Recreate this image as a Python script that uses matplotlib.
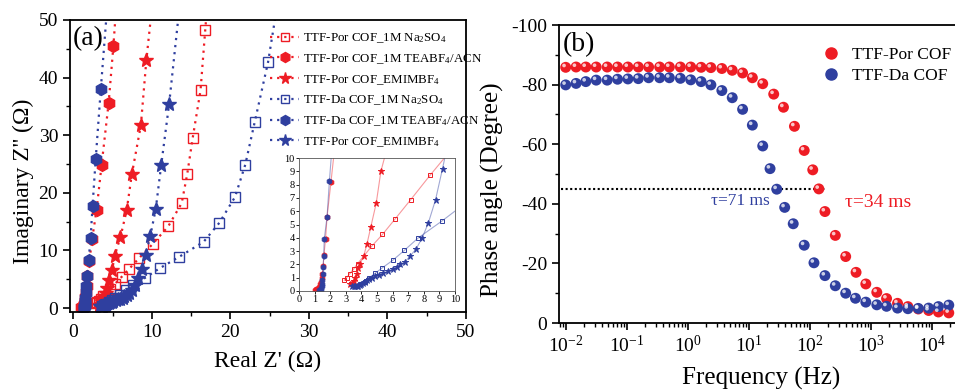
import numpy as np
import matplotlib
matplotlib.use("Agg")
import matplotlib.pyplot as plt
from matplotlib.lines import Line2D
from matplotlib.legend_handler import HandlerTuple
from matplotlib.ticker import MultipleLocator, LogLocator, NullFormatter
import matplotlib.transforms as mtransforms

plt.rcParams['font.family'] = ['Liberation Serif', 'DejaVu Serif']
plt.rcParams['mathtext.fontset'] = 'custom'
plt.rcParams['mathtext.rm'] = 'Liberation Serif'
plt.rcParams['mathtext.it'] = 'Liberation Serif:italic'
plt.rcParams['axes.unicode_minus'] = False

RED = '#ee1c24'
BLUE = '#2f3f9f'

# ---------------- Panel (a) data: Nyquist ----------------
por_teabf4_x = [1.0, 1.1, 1.2, 1.3, 1.35, 1.4, 1.45, 1.5, 1.55, 1.6, 1.7, 1.8, 2.05, 2.4, 2.97, 3.6, 4.5, 5.1, 5.6]
por_teabf4_y = [0.1, 0.12, 0.18, 0.3, 0.5, 0.7, 1.0, 1.3, 1.9, 2.7, 3.9, 5.6, 8.2, 12.0, 17.1, 24.8, 35.6, 45.4, 55.0]

da_teabf4_x = [1.3, 1.38, 1.42, 1.46, 1.48, 1.5, 1.52, 1.55, 1.58, 1.62, 1.8, 1.95, 2.2, 2.45, 2.85, 3.5, 4.3]
da_teabf4_y = [0.05, 0.1, 0.2, 0.35, 0.55, 0.8, 1.3, 1.8, 2.6, 3.9, 5.6, 8.3, 12.1, 17.7, 25.8, 38.0, 52.0]

por_emim_x = [3.3, 3.4, 3.5, 3.6, 3.7, 3.8, 3.9, 4.15, 4.35, 4.6, 4.95, 5.25, 6.0, 6.8, 7.45, 8.6, 9.3, 10.0]
por_emim_y = [0.5, 0.6, 0.75, 1.0, 1.3, 1.7, 2.0, 2.65, 3.5, 4.8, 6.6, 9.0, 12.3, 17.0, 23.2, 31.7, 43.0, 52.0]

da_emim_x = [3.4, 3.5, 3.6, 3.7, 3.8, 3.9, 4.0, 4.1, 4.2, 4.35, 4.5, 4.7, 4.9, 5.1, 5.4, 5.7, 6.0, 6.3, 6.5,
             6.8, 7.1, 7.5, 7.9, 8.3, 8.75, 9.2, 9.8, 10.5, 11.2, 12.2, 13.5]
da_emim_y = [0.4, 0.38, 0.37, 0.38, 0.4, 0.45, 0.55, 0.6, 0.7, 0.8, 0.9, 1.0, 1.1, 1.2, 1.35, 1.5, 1.65, 1.8, 2.0,
             2.2, 2.6, 3.15, 4.0, 5.15, 6.85, 9.2, 12.5, 17.2, 24.9, 35.4, 52.0]

por_na_x = [2.9, 3.05, 3.25, 3.5, 3.75, 4.65, 5.35, 6.15, 7.15, 8.4, 10.1, 12.1, 13.8, 14.5, 15.2, 16.2, 16.8, 17.2]
por_na_y = [0.8, 1.0, 1.3, 1.65, 2.05, 3.35, 4.25, 5.4, 6.85, 8.7, 11.1, 14.2, 18.2, 23.2, 29.5, 37.8, 48.3, 55.0]

da_na_x = [3.7, 3.9, 4.2, 4.5, 4.9, 5.35, 6.0, 6.75, 7.65, 9.15, 11.0, 13.5, 16.6, 18.6, 20.6, 21.9, 23.1, 24.8, 25.9]
da_na_y = [0.4, 0.5, 0.7, 1.0, 1.35, 1.75, 2.3, 3.05, 4.0, 5.25, 6.9, 8.9, 11.5, 14.8, 19.3, 24.9, 32.3, 42.7, 52.0]

labels_a = ['TTF-Por COF_1M Na$_\\mathregular{2}$SO$_\\mathregular{4}$',
            'TTF-Por COF_1M TEABF$_\\mathregular{4}$/ACN',
            'TTF-Por COF_EMIMBF$_\\mathregular{4}$',
            'TTF-Da COF_1M Na$_\\mathregular{2}$SO$_\\mathregular{4}$',
            'TTF-Da COF_1M TEABF$_\\mathregular{4}$/ACN',
            'TTF-Por COF_EMIMBF$_\\mathregular{4}$']

# ---------------- Panel (b) data: Bode phase ----------------
por_logf = [-2.00, -1.83, -1.67, -1.50, -1.32, -1.15, -0.98, -0.81, -0.64, -0.46, -0.30, -0.12, 0.05, 0.22,
            0.38, 0.56, 0.73, 0.90, 1.06, 1.23, 1.41, 1.57, 1.75, 1.91, 2.05, 2.15, 2.25, 2.42, 2.59, 2.76,
            2.92, 3.10, 3.26, 3.44, 3.61, 3.78, 3.95, 4.11, 4.28]
por_phase = [-85.8, -85.9, -85.9, -85.9, -85.9, -85.9, -85.9, -85.9, -85.9, -85.9, -85.9, -85.9, -85.9, -85.8,
             -85.7, -85.4, -84.8, -83.9, -82.3, -80.3, -76.8, -72.4, -66.0, -57.9, -51.4, -45.0, -37.4, -29.4,
             -22.3, -17.0, -13.1, -10.3, -8.2, -6.6, -5.5, -4.7, -4.2, -3.7, -3.4]

da_logf = [-2.00, -1.83, -1.67, -1.50, -1.32, -1.15, -0.98, -0.81, -0.64, -0.46, -0.30, -0.12, 0.05, 0.22,
           0.38, 0.56, 0.73, 0.90, 1.06, 1.23, 1.35, 1.46, 1.59, 1.73, 1.91, 2.07, 2.25, 2.42, 2.59, 2.75,
           2.92, 3.10, 3.26, 3.44, 3.61, 3.78, 3.95, 4.11, 4.28]
da_phase = [-79.9, -80.4, -81.0, -81.5, -81.5, -81.8, -81.9, -82.0, -82.3, -82.3, -82.3, -82.1, -81.6, -81.0,
            -79.9, -78.0, -75.6, -71.7, -66.4, -59.4, -51.8, -44.9, -38.8, -33.3, -26.1, -20.2, -15.9, -12.5,
            -10.0, -8.3, -7.0, -6.1, -5.6, -5.0, -4.8, -4.9, -5.0, -5.5, -6.0]

labels_b = ['TTF-Por COF', 'TTF-Da COF']
tau_level = -45
tau_line_f = [0.0085, 180]
tau_texts = ['τ=71 ms', 'τ=34 ms']

W, H = 955, 392
fig = plt.figure(figsize=(W / 100, H / 100), dpi=100)

# ================= Panel (a) =================
ax = fig.add_axes([70 / W, 1 - 311.7 / H, 396 / W, (311.7 - 20) / H])
series = [
    (por_na_x, por_na_y, RED, 's', 'none', 7),
    (por_teabf4_x, por_teabf4_y, RED, 'h', RED, 8.5),
    (por_emim_x, por_emim_y, RED, '*', RED, 10),
    (da_na_x, da_na_y, BLUE, 's', 'none', 7),
    (da_teabf4_x, da_teabf4_y, BLUE, 'h', BLUE, 8.5),
    (da_emim_x, da_emim_y, BLUE, '*', BLUE, 10),
]
handles = []
for (x, y, c, m, fc, ms), lab in zip(series, labels_a):
    h, = ax.plot(x, y, linestyle=(0, (1, 2.2)), lw=1.6, color=c, marker=m, mfc=fc, mec=c,
                 ms=ms, mew=1.0, label=lab)
    handles.append(h)
ax.set_xlim(-0.42, 50)
ax.set_ylim(-0.64, 50)
ax.xaxis.set_major_locator(MultipleLocator(10))
ax.xaxis.set_minor_locator(MultipleLocator(5))
ax.yaxis.set_major_locator(MultipleLocator(10))
ax.yaxis.set_minor_locator(MultipleLocator(5))
ax.tick_params(which='major', direction='out', length=5, width=1.2, labelsize=14)
ax.tick_params(which='minor', direction='out', length=3, width=1.0)
for s in ax.spines.values():
    s.set_linewidth(1.3)
ax.set_xlabel("Real Z' (Ω)", fontsize=17)
ax.xaxis.set_label_coords(0.5, (311.7 - 351) / 291.7)
ax.set_ylabel("Imaginary Z'' (Ω)", fontsize=17)
ax.yaxis.set_label_coords((34 - 70) / 396, (311.7 - 181) / 291.7)
ax.text(0.008, 0.935, '(a)', transform=ax.transAxes, fontsize=20, ha='left', va='center')
leg = ax.legend(handles=handles, loc='upper left', bbox_to_anchor=(264 / W, 1 - 25 / H),
                bbox_transform=fig.transFigure, frameon=False, fontsize=9.3, handlelength=2.2,
                handletextpad=0.3, labelspacing=0.55, borderpad=0, markerscale=0.85)

# inset
ins = fig.add_axes([299 / W, 1 - 291 / H, 156 / W, 133 / H])
for (x, y, c, m, fc, ms) in series:
    ins.plot(x, y, '-', lw=0.8, color=c, alpha=0.45)
    ins.plot(x, y, linestyle='none', marker=m, mfc=fc, mec=c, ms=ms * 0.45, mew=0.7)
ins.set_xlim(0, 10)
ins.set_ylim(0, 10)
ins.xaxis.set_major_locator(MultipleLocator(1))
ins.yaxis.set_major_locator(MultipleLocator(1))
ins.tick_params(direction='out', length=2, width=0.6, labelsize=7.5, pad=1)
for s in ins.spines.values():
    s.set_linewidth(0.6)
    s.set_color('#555555')

# ================= Panel (b) =================
bx = fig.add_axes([559 / W, 1 - 323 / H, 420 / W, (323 - 25) / H])
decade_px = 61.0
x_lo = 10 ** (-2 - (565.7 - 559) / decade_px)
x_hi = 10 ** (-2 + (559 + 420 - 565.7) / decade_px)

def spheres(axh, f, p, color, lab):
    axh.scatter(f, p, s=62, color=color, edgecolors='none', zorder=3, label=lab)
    off = mtransforms.offset_copy(axh.transData, fig=fig, x=-1.2, y=1.3, units='points')
    axh.scatter(f, p, s=7, color='white', alpha=0.75, edgecolors='none', zorder=4, transform=off)

por_f = [10 ** v for v in por_logf]
da_f = [10 ** v for v in da_logf]
bx.plot(tau_line_f, [tau_level, tau_level], linestyle=(0, (1, 1.2)), color='black', lw=1.5, zorder=2)
spheres(bx, por_f, por_phase, RED, labels_b[0])
spheres(bx, da_f, da_phase, BLUE, labels_b[1])
bx.set_xscale('log')
bx.set_xlim(x_lo, x_hi)
bx.set_ylim(0, -100)
bx.yaxis.set_major_locator(MultipleLocator(20))
bx.yaxis.set_minor_locator(MultipleLocator(10))
bx.xaxis.set_major_locator(LogLocator(base=10, numticks=20))
bx.xaxis.set_minor_locator(LogLocator(base=10, subs=np.arange(2, 10), numticks=100))
bx.xaxis.set_minor_formatter(NullFormatter())
bx.tick_params(which='major', direction='out', length=5, width=1.2, labelsize=14)
bx.tick_params(which='minor', direction='out', length=3, width=1.0)
bx.spines['right'].set_visible(False)
for s in bx.spines.values():
    s.set_linewidth(1.3)
bx.set_xlabel('Frequency (Hz)', fontsize=18)
bx.xaxis.set_label_coords((761 - 559) / 420, (323 - 367) / 298)
bx.set_ylabel('Phase angle (Degree)', fontsize=18)
bx.yaxis.set_label_coords((504 - 559) / 420, (323 - 190) / 298)
bx.text(0.008, 0.935, '(b)', transform=bx.transAxes, fontsize=20, ha='left', va='center')
bx.text(2.45, -41, tau_texts[0], color=BLUE, fontsize=12.5, ha='left', va='center')
bx.text(380, -40.5, tau_texts[1], color=RED, fontsize=14, ha='left', va='center')

hb = []
for c, lab in zip([RED, BLUE], labels_b):
    big = Line2D([], [], linestyle='none', marker='o', ms=8, mfc=c, mec=c)
    hl = Line2D([], [], linestyle='none', marker='o', ms=2.5, mfc='white', mec='none', alpha=0.75)
    hb.append((big, hl))
bx.legend(hb, labels_b, handler_map={tuple: HandlerTuple(ndivide=None)}, loc='upper left',
          bbox_to_anchor=(818 / W, 1 - 38 / H), bbox_transform=fig.transFigure, frameon=False,
          fontsize=12.5, handlelength=1.0, handletextpad=0.45, labelspacing=0.3, borderpad=0)

fig.savefig('out.png', dpi=100)
